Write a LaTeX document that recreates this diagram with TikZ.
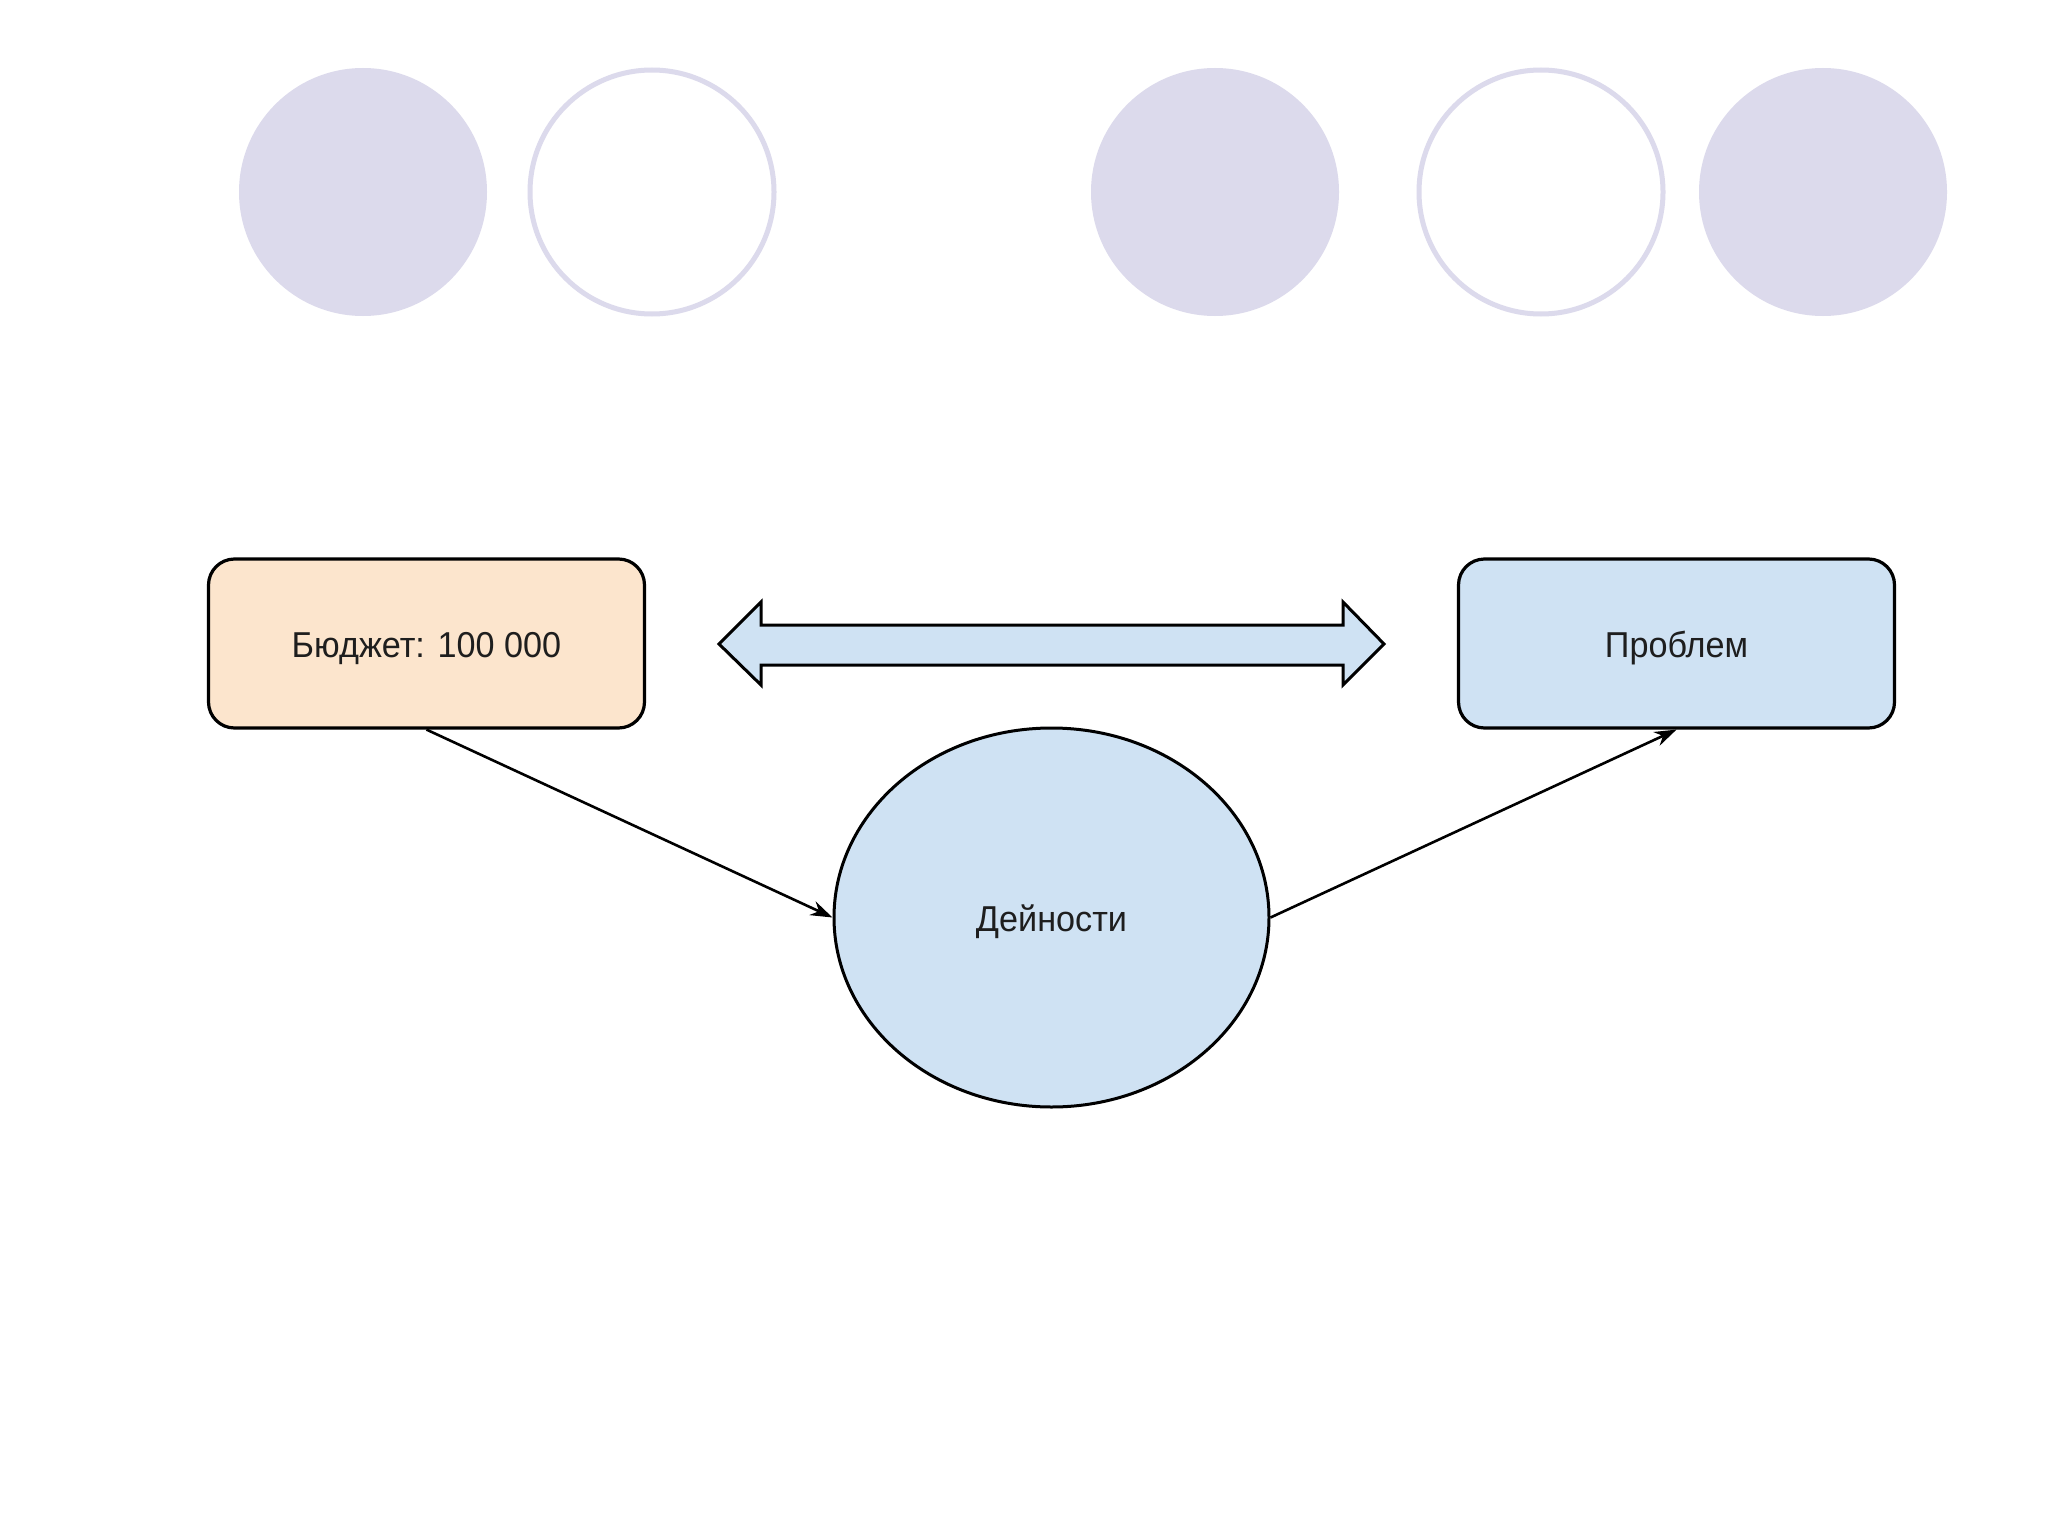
\documentclass[tikz,border=0pt]{standalone}
\usepackage{fontspec}
\setmainfont{Liberation Sans}
\usetikzlibrary{arrows.meta,shapes.geometric}
\definecolor{lav}{HTML}{DCDAEC}
\definecolor{peach}{HTML}{FCE5CD}
\definecolor{lblue}{HTML}{CFE2F3}
\definecolor{txt}{HTML}{1E1E1E}
\newcommand{\narrowtxt}[1]{\scalebox{0.95}[1]{#1}}
\begin{document}
\begin{tikzpicture}[x=1pt,y=-1pt,
  dot/.style={circle,fill=lav,draw=none,minimum size=248pt,inner sep=0pt},
  ring/.style={circle,draw=lav,line width=5pt,fill=white,minimum size=244pt,inner sep=0pt},
  box/.style={rectangle,rounded corners=26pt,draw=black,line width=3.2pt,minimum width=436pt,minimum height=169pt,inner sep=0pt,text=txt,text height=34pt,text depth=7pt,font=\fontsize{36pt}{43pt}\selectfont},
  oval/.style={ellipse,draw=black,line width=3pt,fill=lblue,minimum width=435pt,minimum height=379pt,inner sep=0pt,text=txt,text height=34pt,text depth=7pt,font=\fontsize{36pt}{43pt}\selectfont},
  conn/.style={draw=black,line width=2.6pt,-{Stealth[length=22pt,width=15pt]}}
]
\useasboundingbox[fill=white] (0,0) rectangle (2048,1536);
\node[dot]  (c1) at (363,192) {};
\node[ring] (c2) at (652,192) {};
\node[dot]  (c3) at (1215,192) {};
\node[ring] (c4) at (1541,192) {};
\node[dot]  (c5) at (1823,192) {};

\node[box,fill=peach] (budget) at (426.5,643.5) {\narrowtxt{Бюджет: 100 000}};
\node[box,fill=lblue] (problem) at (1676.5,643.5) {\narrowtxt{Проблем}};
\node[oval] (act) at (1051.5,917.5) {\narrowtxt{Дейности}};

\draw[line width=3pt,fill=lblue,line join=miter]
  (719,644) -- (761,602) -- (761,625) -- (1343,625) -- (1343,602) -- (1384,644)
  -- (1343,685) -- (1343,665) -- (761,665) -- (761,685) -- cycle;

\draw[conn] (budget.south) -- (act.west);
\draw[conn] (act.east) -- (problem.south);
\end{tikzpicture}
\end{document}
